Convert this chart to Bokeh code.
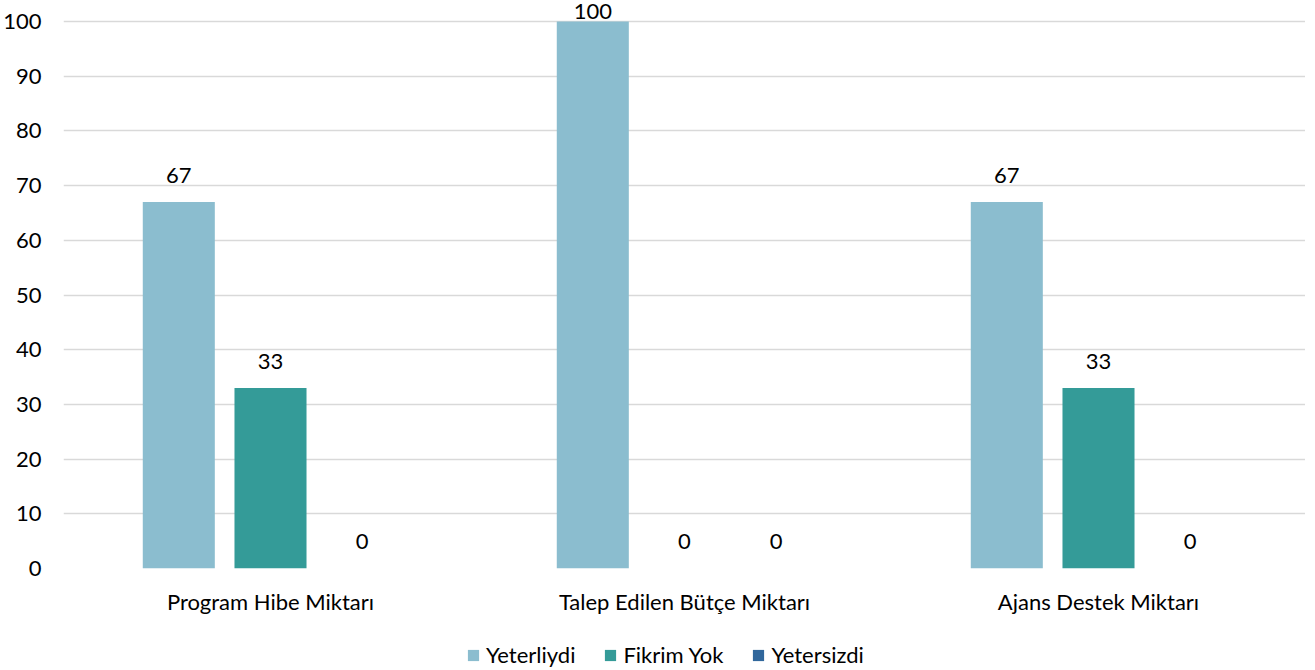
import numpy as np
from bokeh.plotting import figure
from bokeh.layouts import column
from bokeh.models import ColumnDataSource, FactorRange, Range1d, LabelSet, Legend, LegendItem
from bokeh.core.properties import value
from bokeh.transform import dodge
from bokeh.embed import file_html
from bokeh.resources import INLINE

categories = ["Program Hibe Miktarı", "Talep Edilen Bütçe Miktarı", "Ajans Destek Miktarı"]
series_names = ["Yeterliydi", "Fikrim Yok", "Yetersizdi"]
yeterliydi = [67, 100, 67]
fikrim_yok = [33, 0, 33]
yetersizdi = [0, 0, 0]
y_ticks = [0, 10, 20, 30, 40, 50, 60, 70, 80, 90, 100]

colors = ["#8bbdcf", "#349b98", "#31679c"]
series_values = [yeterliydi, fikrim_yok, yetersizdi]
offsets = [-0.2215, 0.0, 0.2215]
FONT = "Lato"
FS = "22px"

p = figure(x_range=FactorRange(*categories), y_range=Range1d(0, 103.66),
           frame_width=1242, frame_height=567,
           min_border_left=56, min_border_right=0, min_border_top=1, min_border_bottom=44,
           output_backend="svg", toolbar_location=None)
p.outline_line_color = None

for name, vals, col, off in zip(series_names, series_values, colors, offsets):
    v = np.array(vals, dtype=float)
    src = ColumnDataSource(dict(x=categories, top=v,
                                ly=np.minimum(v + 3.5, 100.5),
                                lab=[str(int(a)) for a in v]))
    p.vbar(x=dodge("x", off, range=p.x_range), top="top", width=0.174,
           source=src, fill_color=col, line_color=None)
    p.add_layout(LabelSet(x=dodge("x", off, range=p.x_range), y="ly", text="lab",
                          source=src, text_align="center", text_baseline="alphabetic",
                          text_font=value(FONT), text_font_size=value(FS),
                          text_color="#000000"))

p.yaxis.ticker = y_ticks
p.xgrid.grid_line_color = None
p.ygrid.grid_line_color = "#d9d9d9"
p.ygrid.grid_line_width = 1.5
for ax in (p.xaxis[0], p.yaxis[0]):
    ax.axis_line_color = None
    ax.major_tick_line_color = None
    ax.minor_tick_line_color = None
    ax.major_tick_out = 0
    ax.major_tick_in = 0
    ax.major_label_text_font = FONT
    ax.major_label_text_font_size = FS
    ax.major_label_text_color = "#000000"
p.yaxis.major_label_standoff = 22
p.xaxis.major_label_standoff = 19
p.x_range.range_padding = 0
p.x_range.group_padding = 0

# legend strip below the chart
lg = figure(width=1298, height=51, x_range=(0, 1), y_range=(0, 1),
            min_border=0, output_backend="svg", toolbar_location=None)
lg.axis.visible = False
lg.grid.grid_line_color = None
lg.outline_line_color = None
items = []
for name, col in zip(series_names, colors):
    r = lg.vbar(x=[0.0], top=[0.0], width=0.0, fill_color=col, line_color=None)
    items.append(LegendItem(label=name, renderers=[r]))
legend = Legend(items=items, location=(403, 0), orientation="horizontal",
                glyph_width=14, glyph_height=14, label_standoff=6, spacing=28,
                padding=0, margin=0, border_line_color=None, background_fill_alpha=0,
                label_text_font=FONT, label_text_font_size=FS, label_text_color="#000000")
lg.add_layout(legend, "center")

layout = column(p, lg, spacing=0)
open("out.html", "w").write(file_html(layout, INLINE))
